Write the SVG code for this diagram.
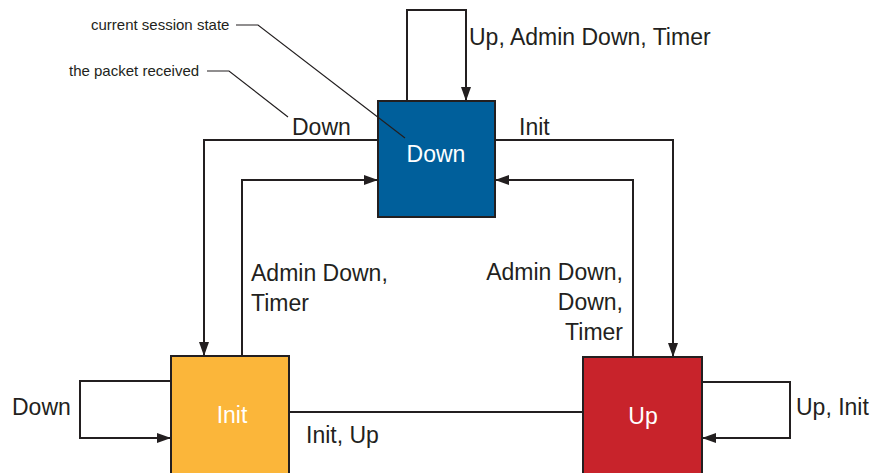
<svg xmlns="http://www.w3.org/2000/svg" width="870" height="473" viewBox="0 0 870 473">
<style>
.box{stroke:#231f20;stroke-width:2}
.conn{fill:none;stroke:#231f20;stroke-width:2}
.call{fill:none;stroke:#231f20;stroke-width:1.2}
.lbl{font-family:"Liberation Sans",Arial,sans-serif;font-size:23px;fill:#231f20}
.st{font-family:"Liberation Sans",Arial,sans-serif;font-size:23px;fill:#ffffff;text-anchor:middle}
.note{font-family:"Liberation Sans",Arial,sans-serif;font-size:15px;fill:#231f20}
</style>
<defs>
<marker id="ah" viewBox="0 0 14 10" refX="14" refY="5" markerWidth="14" markerHeight="10" markerUnits="userSpaceOnUse" orient="auto">
<path d="M0,0 L14,5 L0,10 z" fill="#231f20"/>
</marker>
</defs>
<rect width="870" height="473" fill="#ffffff"/>
<g id="connectors">
<path class="conn" d="M407,101 V10 H466 V101" marker-end="url(#ah)"/>
<path class="conn" d="M378,140 H204 V356" marker-end="url(#ah)"/>
<path class="conn" d="M242,356 V180 H378" marker-end="url(#ah)"/>
<path class="conn" d="M495,140 H673 V357" marker-end="url(#ah)"/>
<path class="conn" d="M633,357 V180 H495" marker-end="url(#ah)"/>
<path class="conn" d="M171,381 H80 V438 H171" marker-end="url(#ah)"/>
<path class="conn" d="M702,382 H790 V438 H702" marker-end="url(#ah)"/>
<path class="conn" d="M289,412 H583"/>
<text class="lbl" x="469" y="45">Up, Admin Down, Timer</text>
<text class="lbl" x="292" y="135">Down</text>
<text class="lbl" x="519" y="135">Init</text>
<text class="lbl" x="251" y="281">Admin Down,</text>
<text class="lbl" x="251" y="311">Timer</text>
<text class="lbl" x="623" y="280" text-anchor="end">Admin Down,</text>
<text class="lbl" x="623" y="310" text-anchor="end">Down,</text>
<text class="lbl" x="623" y="340" text-anchor="end">Timer</text>
<text class="lbl" x="12" y="415">Down</text>
<text class="lbl" x="796" y="415">Up, Init</text>
<text class="lbl" x="306" y="443">Init, Up</text>
</g>
<g id="node-down">
<rect class="box" x="378" y="101" width="117" height="116" fill="#005f9b"/>
<text class="st" x="436" y="162">Down</text>
</g>
<g id="node-init">
<rect class="box" x="171" y="356" width="118" height="130" fill="#fbb63a"/>
<text class="st" x="232" y="423">Init</text>
</g>
<g id="node-up">
<rect class="box" x="583" y="357" width="119" height="130" fill="#c8232b"/>
<text class="st" x="643" y="424">Up</text>
</g>
<g id="callouts">
<path class="call" d="M236,25 H258 L405,138"/>
<text class="note" x="91" y="30">current session state</text>
<path class="call" d="M207,71 H229 L288,117"/>
<text class="note" x="69" y="76">the packet received</text>
</g>
</svg>
